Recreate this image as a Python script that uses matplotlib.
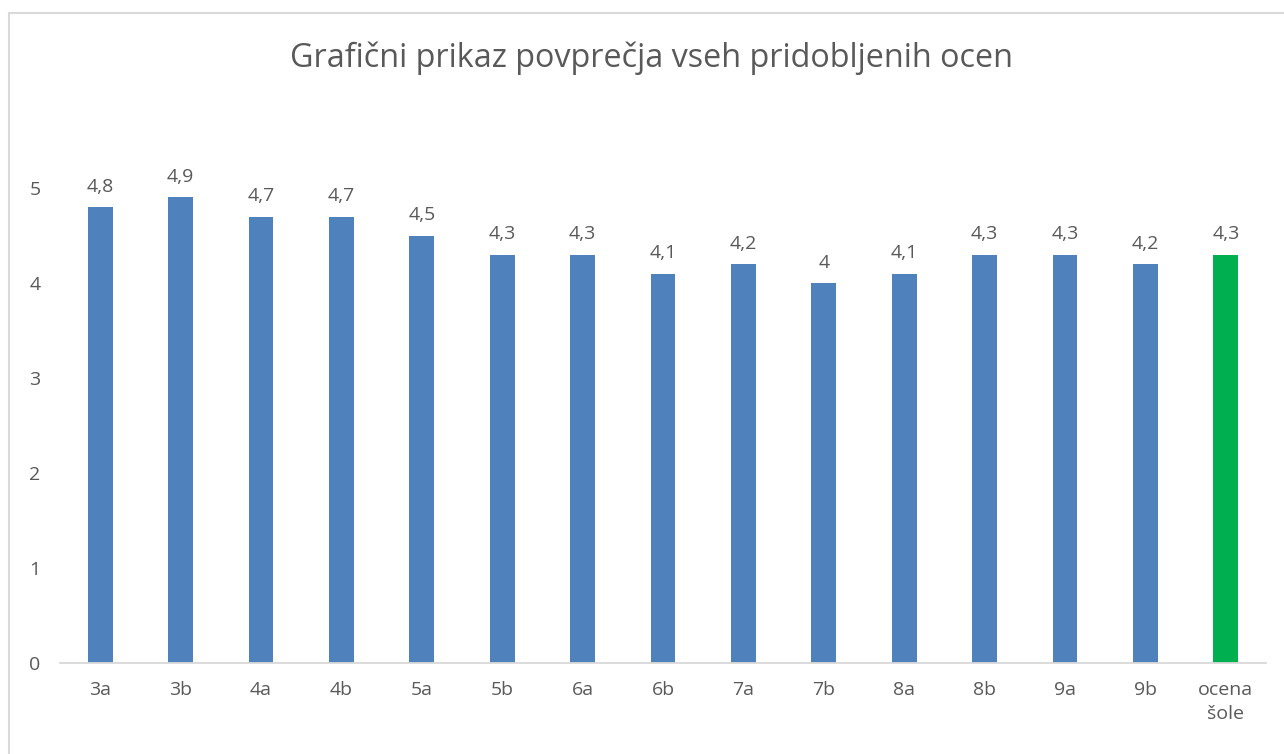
import matplotlib

matplotlib.use("Agg")
import matplotlib.pyplot as plt
from matplotlib.patches import Rectangle

categories = ["3a", "3b", "4a", "4b", "5a", "5b", "6a", "6b", "7a", "7b",
              "8a", "8b", "9a", "9b", "ocena\nšole"]
values = [4.8, 4.9, 4.7, 4.7, 4.5, 4.3, 4.3, 4.1, 4.2, 4.0,
          4.1, 4.3, 4.3, 4.2, 4.3]
value_labels = ["4,8", "4,9", "4,7", "4,7", "4,5", "4,3", "4,3", "4,1", "4,2", "4",
                "4,1", "4,3", "4,3", "4,2", "4,3"]
y_ticks = [0, 1, 2, 3, 4, 5]

BLUE = "#4F81BD"
GREEN = "#00B050"
TEXT = "#595959"

plt.rcParams["font.family"] = ["Open Sans", "DejaVu Sans"]

W, H = 1284, 754
fig = plt.figure(figsize=(W / 100, H / 100), dpi=100)
fig.patch.set_facecolor("white")

# chart frame, clipped at right and bottom like the screenshot
fig.patches.append(Rectangle((9 / W, -0.05), 1.1, 1 - 13 / H + 0.05,
                             transform=fig.transFigure, fill=False,
                             edgecolor="#D9D9D9", linewidth=1.5))

left, right = 60 / W, 1266 / W
bottom, top = 1 - 663 / H, 1 - 93 / H
ax = fig.add_axes([left, bottom, right - left, top - bottom])

xs = list(range(len(categories)))
colors = [BLUE] * (len(categories) - 1) + [GREEN]
ax.bar(xs, values, width=0.31, color=colors, zorder=2)

for x, v, lab in zip(xs, values, value_labels):
    ax.annotate(lab, (x, v), textcoords="offset points", xytext=(0, 8),
                ha="center", va="bottom", fontsize=14, color=TEXT)

ax.set_xlim(-0.5, len(categories) - 0.5)
ax.set_ylim(0, 6)
ax.set_yticks(y_ticks, [str(t) for t in y_ticks])
ax.set_xticks(xs, categories)
ax.tick_params(axis="both", length=0, labelsize=14, labelcolor=TEXT)
ax.tick_params(axis="x", pad=13)
ax.tick_params(axis="y", pad=14)
for lbl in ax.get_xticklabels():
    lbl.set_linespacing(1.45)

for spine in ("top", "right", "left"):
    ax.spines[spine].set_visible(False)
ax.spines["bottom"].set_color("#D9D9D9")
ax.spines["bottom"].set_linewidth(1.3)

fig.text(652 / W, 1 - 58 / H, "Grafični prikaz povprečja vseh pridobljenih ocen",
         ha="center", va="center", fontsize=23.3, color=TEXT)

fig.savefig("out.png", dpi=100)
